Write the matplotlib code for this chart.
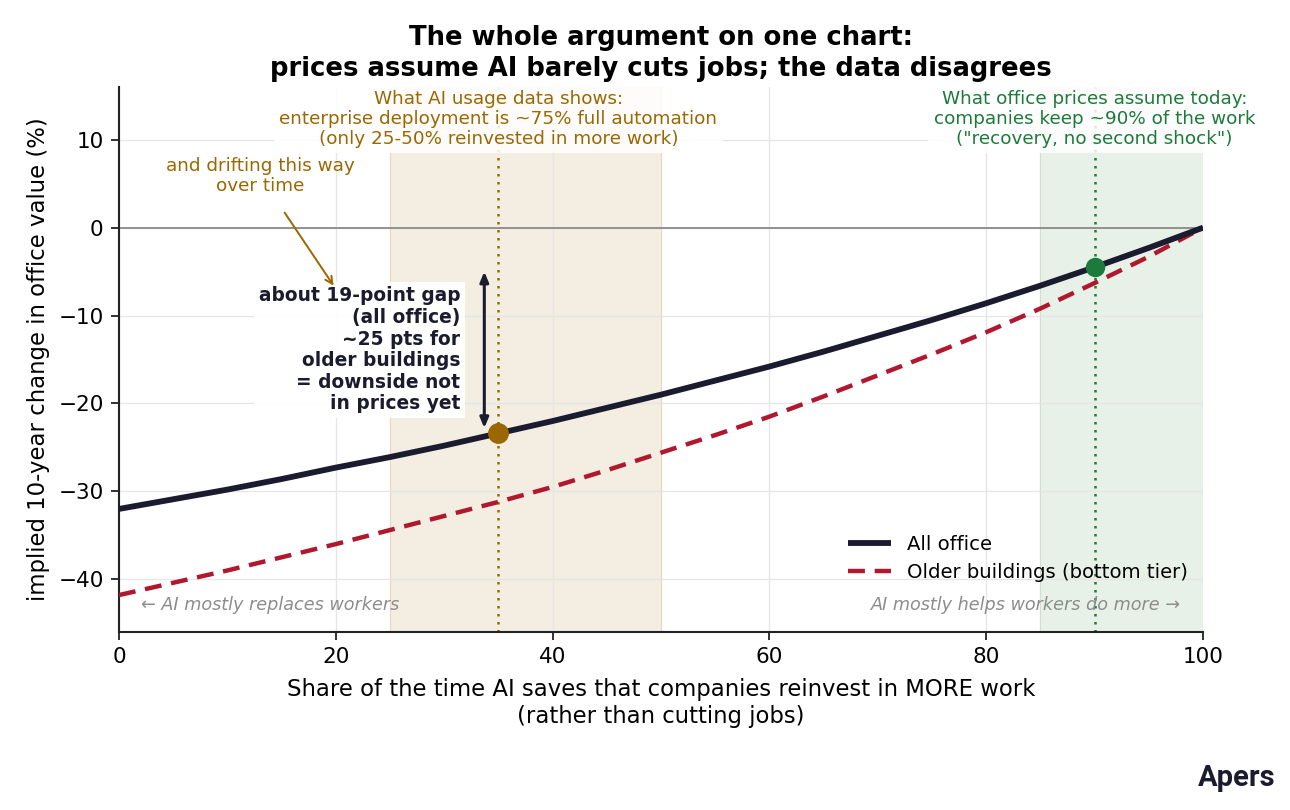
import matplotlib
matplotlib.use("Agg")
import matplotlib.pyplot as plt

# ---- data ----
share = [0, 5, 10, 15, 20, 25, 30, 35, 40, 45, 50, 55, 60, 65, 70, 75, 80, 85, 90, 95, 100]
all_office = [-32.0, -30.9, -29.8, -28.6, -27.3, -26.1, -24.8, -23.4, -22.0, -20.5, -19.0,
              -17.4, -15.8, -14.1, -12.3, -10.5, -8.6, -6.6, -4.5, -2.3, 0.0]
older = [-41.8, -40.4, -39.0, -37.5, -36.0, -34.4, -32.8, -31.2, -29.5, -27.6, -25.6,
         -23.6, -21.5, -19.2, -16.8, -14.4, -11.9, -9.2, -6.3, -3.3, 0.0]

usage_band = [25, 50]
usage_point = [35, -23.4]
price_band = [85, 100]
price_point = [90, -4.5]
gap_arrow = [33.7, -5.0, -22.8]

x_ticks = [0, 20, 40, 60, 80, 100]
y_ticks = [-40, -30, -20, -10, 0, 10]

DARK = "#1b1b2f"
RED = "#b0182e"
GOLD = "#9a6700"
GREEN = "#1c7a3a"

plt.rcParams['font.family'] = ['DejaVu Sans']

fig = plt.figure(figsize=(12.9, 8.1), dpi=100)
ax = fig.add_axes([119/1290, 1-632/810, (1203-119)/1290, (632-87)/810])

ax.set_xlim(0, 100)
ax.set_ylim(-46, 16)

ax.axvspan(*usage_band, color="#f3ede2", zorder=0)
ax.axvspan(*price_band, color="#e8f1e8", zorder=0)
ax.axvline(usage_band[0], color="#e6d9c2", lw=0.8, zorder=0.5)
ax.axvline(usage_band[1], color="#e6d9c2", lw=0.8, zorder=0.5)
ax.axvline(price_band[0], color="#cfe0d1", lw=0.8, zorder=0.5)
ax.axvline(price_band[1], color="#cfe0d1", lw=0.8, zorder=0.5)

ax.grid(True, color="#e6e6e6", lw=1.0, zorder=0.6)
ax.set_axisbelow(True)
ax.axhline(0, color="#8a8a8a", lw=1.3, zorder=1)

ax.axvline(usage_point[0], color=GOLD, lw=1.8, ls=(0, (1, 2.2)), zorder=2)
ax.axvline(price_point[0], color=GREEN, lw=1.8, ls=(0, (1, 2.2)), zorder=2)

ax.plot(share, all_office, color=DARK, lw=4.2, label="All office", zorder=4,
        solid_capstyle="butt")
ax.plot(share, older, color=RED, lw=3.2, ls=(0, (3.8, 2.2)), label="Older buildings (bottom tier)",
        zorder=3)

ax.plot([usage_point[0]], [usage_point[1]], "o", color=GOLD, ms=14, zorder=5)
ax.plot([price_point[0]], [price_point[1]], "o", color=GREEN, ms=13, zorder=5)

ax.annotate("", xy=(gap_arrow[0], gap_arrow[2]), xytext=(gap_arrow[0], gap_arrow[1]),
            arrowprops=dict(arrowstyle="<|-|>,head_length=0.6,head_width=0.25", color=DARK, lw=2.2,
                            shrinkA=0, shrinkB=0), zorder=6)

ax.text(31.5, -13.9, "about 19-point gap\n(all office)\n~25 pts for\nolder buildings\n= downside not\nin prices yet",
        ha="right", va="center", fontsize=13.4, fontweight="bold", color=DARK, linespacing=1.17,
        bbox=dict(boxstyle="square,pad=0.25", fc="white", ec="none", alpha=0.95), zorder=6)

ax.text(35, 12.4, "What AI usage data shows:\nenterprise deployment is ~75% full automation\n(only 25-50% reinvested in more work)",
        ha="center", va="center", fontsize=13.2, color=GOLD, linespacing=1.15,
        bbox=dict(boxstyle="square,pad=0.3", fc="white", ec="none", alpha=0.85), zorder=6)

ax.text(90, 12.4, "What office prices assume today:\ncompanies keep ~90% of the work\n(\"recovery, no second shock\")",
        ha="center", va="center", fontsize=13.2, color=GREEN, linespacing=1.15,
        bbox=dict(boxstyle="square,pad=0.3", fc="white", ec="none", alpha=0.85), zorder=6)

ax.annotate("and drifting this way\nover time", xy=(19.8, -6.6), xytext=(13, 5.9),
            ha="center", va="center", fontsize=13.2, color=GOLD, linespacing=1.15,
            arrowprops=dict(arrowstyle="->", color=GOLD, lw=1.4, shrinkA=13, shrinkB=0), zorder=6)

ax.text(2, -42.9, "← AI mostly replaces workers", ha="left", va="center", fontsize=12.7,
        style="italic", color="#8c8c8c", zorder=6)
ax.text(98, -42.9, "AI mostly helps workers do more →", ha="right", va="center", fontsize=12.7,
        style="italic", color="#8c8c8c", zorder=6)

ax.set_xticks(x_ticks)
ax.set_yticks(y_ticks)
ax.tick_params(labelsize=15.5, length=6, width=1.3, color="#222222", pad=5)
for s in ["top", "right"]:
    ax.spines[s].set_visible(False)
for s in ["left", "bottom"]:
    ax.spines[s].set_color("#222222")
    ax.spines[s].set_linewidth(1.5)

ax.set_xlabel("Share of the time AI saves that companies reinvest in MORE work\n(rather than cutting jobs)",
              fontsize=16.4, labelpad=8, linespacing=1.2)
ax.set_ylabel("implied 10-year change in office value (%)", fontsize=16.4, labelpad=6)

ax.set_title("The whole argument on one chart:\nprices assume AI barely cuts jobs; the data disagrees",
             fontsize=18.6, fontweight="bold", pad=8, linespacing=1.25)

leg = ax.legend(loc="lower right", bbox_to_anchor=(1.002, 0.06), frameon=False, fontsize=14.1,
                handlelength=2.2, labelspacing=0.45)

fig.text(1276/1290, 1-778/810, "Apers", ha="right", va="center", fontsize=21,
         fontweight="bold", color=DARK, family=["Roboto", "DejaVu Sans"])

fig.savefig("out.png", dpi=100)
